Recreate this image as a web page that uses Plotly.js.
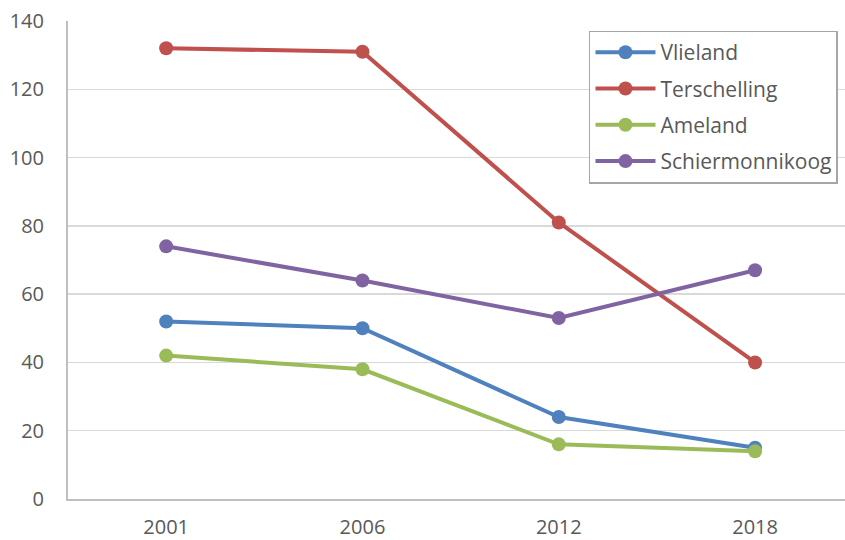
<!DOCTYPE html>
<html>
<head>
<meta charset="utf-8">
<script src="https://cdn.plot.ly/plotly-3.0.1.min.js"></script>
<style>html,body{margin:0;padding:0;background:#fff;}#chart{width:845px;height:540px;}</style>
</head>
<body>
<div id="chart"></div>
<script>
const years = ["2001", "2006", "2012", "2018"];
const vlieland = [52, 50, 24, 15];
const terschelling = [132, 131, 81, 40];
const ameland = [42, 38, 16, 14];
const schiermonnikoog = [74, 64, 53, 67];
const seriesNames = ["Vlieland", "Terschelling", "Ameland", "Schiermonnikoog"];
const seriesColors = ["#4F81BD", "#C0504D", "#9BBB59", "#8064A2"];
const seriesData = [vlieland, terschelling, ameland, schiermonnikoog];

const traces = seriesData.map((vals, i) => ({
  type: "scatter",
  mode: "lines+markers",
  name: seriesNames[i],
  legendgroup: "g" + i,
  x: years,
  y: vals,
  line: {color: seriesColors[i], width: 4},
  marker: {color: seriesColors[i], size: 14}
}));

const font = {family: "Open Sans, sans-serif", size: 20, color: "#595959"};
const layout = {
  width: 845, height: 540,
  margin: {l: 68, r: 0, t: 21, b: 41},
  paper_bgcolor: "#fff", plot_bgcolor: "#fff",
  font: font,
  showlegend: true,
  legend: {
    x: 0.6705, y: 0.98, xanchor: "left", yanchor: "top",
    bgcolor: "#fff", bordercolor: "#A6A6A6", borderwidth: 1.5,
    font: {family: "Open Sans, sans-serif", size: 21, color: "#595959"},
    itemwidth: 60,
    traceorder: "grouped",
    tracegroupgap: 6
  },
  xaxis: {
    type: "category",
    range: [-0.5, 3.458],
    showgrid: false, zeroline: false,
    showline: true, linecolor: "#BFBFBF", linewidth: 2,
    ticks: "", ticklabelstandoff: 9,
    tickfont: font, fixedrange: true
  },
  yaxis: {
    range: [0, 140],
    tickvals: [0, 20, 40, 60, 80, 100, 120, 140],
    showgrid: true, gridcolor: "#D9D9D9", gridwidth: 1.5,
    zeroline: false,
    showline: true, linecolor: "#BFBFBF", linewidth: 2,
    ticks: "", ticklabelstandoff: 18,
    tickfont: font, fixedrange: true
  }
};

Plotly.newPlot("chart", traces, layout, {displayModeBar: false, staticPlot: true});
</script>
</body>
</html>
